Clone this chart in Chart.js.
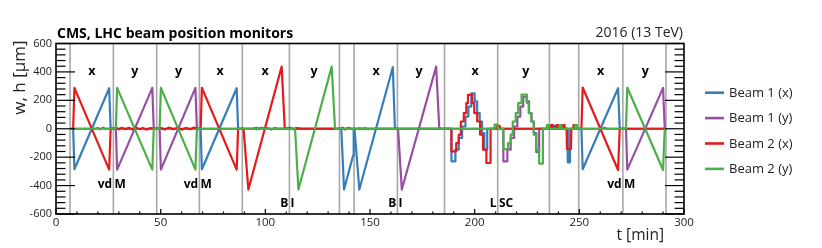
<!DOCTYPE html>
<html><head><meta charset="utf-8">
<script src="https://cdn.jsdelivr.net/npm/chart.js@4.4.1/dist/chart.umd.min.js"></script>
<style>html,body{margin:0;padding:0;background:#fff;}canvas{display:block;}</style>
</head><body>
<canvas id="c" width="822" height="248"></canvas>
<script>
// ---------- data (t [min], position [um]) ----------
const seriesNames = ['Beam 1 (x)', 'Beam 1 (y)', 'Beam 2 (x)', 'Beam 2 (y)'];
const seriesColors = ['#377eb8', '#984ea3', '#e41a1c', '#4daf4a'];

const beam1x = [
  [7.3,0],[8.2,0],[8.8,-285],[25.4,285],[26.1,0],
  [69.1,0],[69.7,-285],[86.3,285],[87.0,0],
  [94,0],[95,6],[96,-4],[98,7],[99.5,-5],[101,5],[103,-6],[104.5,6],[106,0],
  [136.3,0],[137.6,-428],[141.9,-190],[142.2,0],[142.6,0],[144.9,-428],[160.9,433],[161.9,0],
  [188.9,0],[188.9,-229],[190.8,-229],[190.8,-147],[192.4,-147],[192.4,-65],[194.0,-65],[194.0,16],
  [195.6,16],[195.6,86],[197.0,86],[197.0,156],[198.4,156],[198.4,250],[200.0,250],[200.0,192],
  [201.2,192],[201.2,110],[202.4,110],[202.4,51],[203.5,51],[203.5,-30],[204.6,-30],[204.6,-147],
  [206.0,-147],[206.0,0],
  [238,0],[238,18],[238.8,18],[238.8,0],
  [244.3,0],[244.5,-236],[245.5,-236],[245.7,0],
  [251.0,0],[251.6,-285],[268.5,285],[269.3,0],
  [291.4,0]
];
const beam1y = [
  [7.3,0],[19,0],[20,6],[21,-4],[22.5,8],[23.5,0],
  [28.6,0],[29.2,-288],[46.0,288],[46.7,0],
  [49.5,0],[50.1,-288],[66.6,288],[67.3,0],
  [95,0],[96,7],[97,-3],[99,6],[100,0],
  [163.4,0],[165.2,-428],[181.6,437],[183.1,0],
  [213.7,0],[213.7,-229],[215.6,-229],[215.6,-147],[217.2,-147],[217.2,-65],[218.8,-65],[218.8,16],
  [220.4,16],[220.4,86],[221.8,86],[221.8,156],[223.2,156],[223.2,227],[224.8,227],[224.8,192],
  [226.0,192],[226.0,110],[227.2,110],[227.2,51],[228.3,51],[228.3,-30],[229.4,-30],[229.4,-164],
  [230.8,-164],[230.8,0],
  [261,0],[262,8],[263,0],
  [272.3,0],[272.9,-288],[290.0,288],[290.8,0],
  [291.4,0]
];
const beam2x = [
  [7.3,0],[8.2,0],[8.8,288],[25.4,-288],[26.1,0],
  [29,5],[30,-4],[31.5,8],[33,-3],[35,6],[36.5,-5],[38,9],[40,-4],[41.5,6],[43,-6],[45,4],[47,0],
  [50,6],[52,-5],[54,8],[56,-4],[58,7],[60,-6],[62,5],[64,-3],[66,8],[68,0],
  [69.1,0],[69.7,288],[86.3,-288],[87.0,0],
  [89.6,0],[91.9,-428],[107.8,437],[109.3,0],
  [112,6],[113.5,-4],[115,5],[117,0],
  [136,0],[137,7],[138,-5],[139.5,6],[141,0],
  [188.9,0],[188.9,-159],[191.2,-159],[191.2,-101],[192.4,-101],[192.4,-42],[193.4,-42],[193.4,51],
  [194.8,51],[194.8,110],[196.0,110],[196.0,180],[196.8,180],[196.8,239],[198.8,239],[198.8,180],
  [199.8,180],[199.8,110],[201.2,110],[201.2,51],[202.6,51],[202.6,-42],[204.0,-42],[204.0,-147],
  [205.6,-147],[205.6,-241],[207.4,-241],[207.6,0],
  [210.5,0],[210.5,20],[212,20],[212,0],
  [236.5,0],[236.5,25],[237.5,25],[237.5,0],[239,0],[239,25],[240,25],[240,0],
  [242,0],[242,25],[243,25],[243,0],
  [243.9,0],[244.1,-143],[246.0,-143],[246.2,0],
  [247.2,0],[247.2,25],[248.2,25],[248.2,0],
  [251.0,0],[251.6,290],[268.5,-290],[269.3,0],
  [291.4,0]
];
const beam2y = [
  [7.3,0],
  [28.6,0],[29.2,288],[46.0,-288],[46.7,0],
  [49.5,0],[50.1,288],[66.6,-288],[67.3,0],
  [114.2,0],[115.8,-428],[131.7,437],[133.3,0],
  [144,0],[145,6],[146,-5],[147.5,7],[149,-4],[150.5,0],
  [209.5,0],[209.5,30],[211,30],[211,0],
  [213.7,0],[213.7,-143],[216.0,-143],[216.0,-101],[217.2,-101],[217.2,-42],[218.2,-42],[218.2,51],
  [219.6,51],[219.6,110],[220.8,110],[220.8,180],[222.4,180],[222.4,241],[225.0,241],[225.0,180],
  [225.8,180],[225.8,110],[227.0,110],[227.0,51],[228.2,51],[228.2,-42],[229.4,-42],[229.4,-147],
  [230.8,-147],[230.8,-246],[232.4,-246],[232.6,0],
  [234.5,0],[234.5,25],[235.5,25],[235.5,0],
  [240.5,0],[240.5,25],[241.5,25],[241.5,0],
  [248,0],[248,25],[249,25],[249,0],
  [272.3,0],[272.9,290],[290.0,-290],[290.8,0],
  [291.4,0]
];

// scan boundaries (vertical grey lines), minutes
const boundaries = [6.7, 27.4, 48.1, 68.5, 89.0, 111.5, 135.4, 142.4, 163.1, 185.6, 211.0, 235.7, 249.7, 270.8, 291.4];

// scan direction labels
const dirLabelTimes = [17.1, 37.7, 58.6, 78.4, 99.9, 123.3, 152.9, 173.4, 200.2, 224.4, 260.2, 281.5];
const dirLabelTexts = ['x','y','y','x','x','y','x','y','x','y','x','y'];
const dirLabelLevel = 380;

// scan type labels, split by a boundary line
const typeLabelLines = [27.4, 68.5, 111.5, 163.1, 211.0, 270.8];
const typeLabelLeft  = ['vd', 'vd', 'B', 'B', 'L', 'vd'];
const typeLabelRight = ['M', 'M', 'I', 'I', 'SC', 'M'];
const typeLabelLevel = [-416, -416, -549, -549, -549, -416];

// axis ranges / ticks
const xRange = [0, 300], xMajor = 50, xMinor = 10;
const yRange = [-600, 600], yMajor = 200, yMinor = 40;

const titleLeft = 'CMS, LHC beam position monitors';
const titleRight = '2016 (13 TeV)';
const xTitle = 't [min]';
const yTitle = 'w, h [\u00b5m]';

const FONT = '"Open Sans", "Noto Sans", sans-serif';

// ---------- chart ----------
const allSeries = [beam1x, beam1y, beam2x, beam2y];
const datasets = allSeries.map((s, i) => ({
  label: seriesNames[i],
  data: s.map(p => ({x: p[0], y: p[1]})),
  borderColor: seriesColors[i],
  backgroundColor: seriesColors[i],
  borderWidth: 2.2,
  pointRadius: 0,
  tension: 0,
  fill: false,
  borderJoinStyle: 'round',
  order: 4 - i
}));

function line(ctx, x1, y1, x2, y2) { ctx.beginPath(); ctx.moveTo(x1, y1); ctx.lineTo(x2, y2); ctx.stroke(); }

const decor = {
  id: 'decor',
  beforeDatasetsDraw(chart) {
    const ctx = chart.ctx, a = chart.chartArea, xs = chart.scales.x;
    ctx.save();
    ctx.strokeStyle = '#a8a8a8';
    ctx.lineWidth = 1.6;
    boundaries.forEach(t => { const p = xs.getPixelForValue(t); line(ctx, p, a.top, p, a.bottom); });
    ctx.restore();
  },
  afterDatasetsDraw(chart) {
    const ctx = chart.ctx, a = chart.chartArea, xs = chart.scales.x, ys = chart.scales.y;
    ctx.save();
    // labels
    ctx.fillStyle = '#000';
    ctx.font = 'bold 12.5px ' + FONT;
    ctx.textBaseline = 'alphabetic';
    ctx.textAlign = 'center';
    dirLabelTimes.forEach((t, i) => ctx.fillText(dirLabelTexts[i], xs.getPixelForValue(t), ys.getPixelForValue(dirLabelLevel)));
    ctx.font = 'bold 12px ' + FONT;
    typeLabelLines.forEach((t, i) => {
      const p = xs.getPixelForValue(t), y = ys.getPixelForValue(typeLabelLevel[i]);
      ctx.textAlign = 'right'; ctx.fillText(typeLabelLeft[i], p - 1.2, y);
      ctx.textAlign = 'left'; ctx.fillText(typeLabelRight[i], p + 1.2, y);
    });
    // ticks
    ctx.strokeStyle = '#000';
    ctx.lineWidth = 1.2;
    for (let v = yRange[0]; v <= yRange[1]; v += yMinor) {
      const p = ys.getPixelForValue(v);
      const L = (v % yMajor === 0) ? 19 : 9.5;
      line(ctx, a.left, p, a.left + L, p);
      line(ctx, a.right, p, a.right - L, p);
    }
    for (let t = xRange[0]; t <= xRange[1]; t += xMinor) {
      const p = xs.getPixelForValue(t);
      const L = (t % xMajor === 0) ? 5 : 2.5;
      line(ctx, p, a.bottom, p, a.bottom - L);
    }
    // frame
    ctx.lineWidth = 1.6;
    ctx.strokeRect(a.left, a.top, a.right - a.left, a.bottom - a.top);
    ctx.restore();
  },
  afterDraw(chart) {
    const ctx = chart.ctx, a = chart.chartArea;
    ctx.save();
    ctx.fillStyle = '#000';
    ctx.textBaseline = 'alphabetic';
    ctx.font = 'bold 14px ' + FONT;
    ctx.textAlign = 'left';
    ctx.fillText(titleLeft, a.left + 1, 37.8);
    ctx.font = '14px ' + FONT;
    ctx.fillStyle = '#222';
    ctx.textAlign = 'right';
    ctx.fillText(titleRight, a.right - 1, 37);
    // axis titles
    ctx.font = '15.5px ' + FONT;
    ctx.textAlign = 'right';
    ctx.fillText(xTitle, 664, 240);
    ctx.save();
    ctx.font = '17px ' + FONT;
    ctx.translate(24.5, 40.5);
    ctx.rotate(-Math.PI / 2);
    ctx.textAlign = 'right';
    ctx.fillText(yTitle, 0, 0);
    ctx.restore();
    // legend
    ctx.font = '13px ' + FONT;
    ctx.textAlign = 'left';
    ctx.textBaseline = 'middle';
    chart.data.datasets.forEach((d, i) => {
      const y = 92.7 + i * 25.4;
      ctx.strokeStyle = d.borderColor;
      ctx.lineWidth = 2.6;
      line(ctx, 705, y, 724, y);
      ctx.fillStyle = '#222';
      ctx.fillText(d.label, 729, y + 0.5);
    });
    ctx.restore();
  }
};

new Chart(document.getElementById('c'), {
  type: 'line',
  data: { datasets },
  options: {
    responsive: false,
    animation: false,
    devicePixelRatio: 1,
    parsing: true,
    layout: { padding: { top: 43.5, right: 138, bottom: 0, left: 0 } },
    plugins: { legend: { display: false }, tooltip: { enabled: false }, title: { display: false } },
    scales: {
      x: {
        type: 'linear', min: xRange[0], max: xRange[1],
        grid: { display: false, drawTicks: false }, border: { display: false },
        ticks: { stepSize: xMajor, padding: 2, maxRotation: 0, autoSkip: false, color: '#222', font: { family: FONT, size: 11.5 } },
        afterFit: s => { s.height = 34; }
      },
      y: {
        type: 'linear', min: yRange[0], max: yRange[1],
        grid: { display: false, drawTicks: false }, border: { display: false },
        ticks: { stepSize: yMajor, padding: 4, autoSkip: false, color: '#222', font: { family: FONT, size: 11 } },
        afterFit: s => { s.width = 56; }
      }
    }
  },
  plugins: [decor]
});
</script>
</body></html>
